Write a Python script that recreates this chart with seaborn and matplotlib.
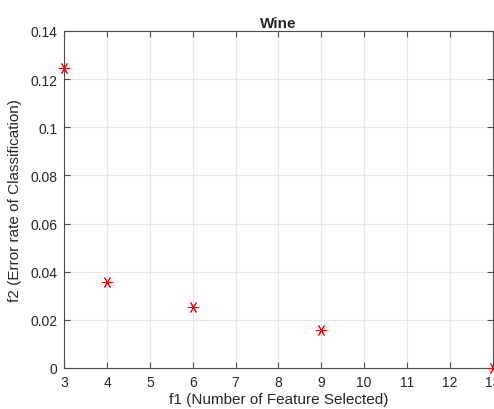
import matplotlib
matplotlib.use("Agg")
import matplotlib.pyplot as plt
import seaborn as sns
import pandas as pd

# data
features = [3, 4, 6, 9, 13]
error_rate = [0.1247, 0.0358, 0.0254, 0.0158, 0.0]

sns.set_style("whitegrid")
plt.rcParams['font.family'] = ['Liberation Sans', 'DejaVu Sans']

df = pd.DataFrame({"f1": features, "f2": error_rate})

fig = plt.figure(figsize=(4.94, 4.10), dpi=100)
ax = fig.add_axes([0.13, 0.10, 0.867, 0.822])
sns.scatterplot(data=df, x="f1", y="f2", ax=ax, marker=(6, 2, 90), s=60,
                color="red", edgecolor="red", linewidth=0.7, clip_on=False, zorder=3)

ax.set_xlim(3, 13)
ax.set_ylim(0, 0.14)
ax.set_xticks(range(3, 14))
ax.set_yticks([0, 0.02, 0.04, 0.06, 0.08, 0.1, 0.12, 0.14])
ax.set_yticklabels(["0", "0.02", "0.04", "0.06", "0.08", "0.1", "0.12", "0.14"])
ax.grid(True, color="#e6e6e6", linewidth=0.8)
for s in ax.spines.values():
    s.set_color("#4d4d4d")
    s.set_linewidth(0.8)
ax.tick_params(direction="in", length=4, colors="#4d4d4d", labelcolor="#262626",
               labelsize=10, pad=5, top=True, right=True, bottom=True, left=True)
ax.set_title("Wine", fontsize=11, fontweight="bold", pad=3)
ax.set_xlabel("f1 (Number of Feature Selected)", fontsize=11, color="#262626", labelpad=2)
ax.set_ylabel("f2 (Error rate of Classification)", fontsize=11, color="#262626", labelpad=6)

fig.savefig("out.png", dpi=100)
